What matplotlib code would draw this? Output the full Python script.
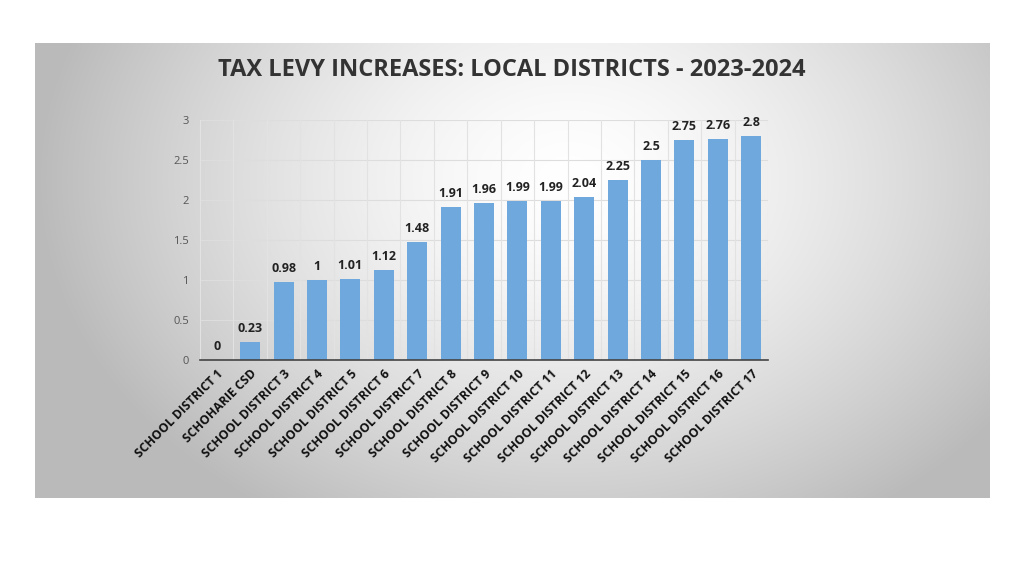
import numpy as np
import matplotlib
matplotlib.use("Agg")
import matplotlib.pyplot as plt

categories = ["SCHOOL DISTRICT 1", "SCHOHARIE CSD", "SCHOOL DISTRICT 3", "SCHOOL DISTRICT 4",
              "SCHOOL DISTRICT 5", "SCHOOL DISTRICT 6", "SCHOOL DISTRICT 7", "SCHOOL DISTRICT 8",
              "SCHOOL DISTRICT 9", "SCHOOL DISTRICT 10", "SCHOOL DISTRICT 11", "SCHOOL DISTRICT 12",
              "SCHOOL DISTRICT 13", "SCHOOL DISTRICT 14", "SCHOOL DISTRICT 15", "SCHOOL DISTRICT 16",
              "SCHOOL DISTRICT 17"]
values = [0, 0.23, 0.98, 1, 1.01, 1.12, 1.48, 1.91, 1.96, 1.99, 1.99, 2.04, 2.25, 2.5, 2.75, 2.76, 2.8]
value_labels = ["0", "0.23", "0.98", "1", "1.01", "1.12", "1.48", "1.91", "1.96", "1.99", "1.99",
                "2.04", "2.25", "2.5", "2.75", "2.76", "2.8"]
yticks = [0, 0.5, 1, 1.5, 2, 2.5, 3]
ytick_labels = ["0", "0.5", "1", "1.5", "2", "2.5", "3"]
title = "TAX LEVY INCREASES: LOCAL DISTRICTS - 2023-2024"

plt.rcParams['font.family'] = ["Open Sans", 'DejaVu Sans']

W, H = 1024, 576
fig = plt.figure(figsize=(W / 100, H / 100), dpi=100)
fig.patch.set_facecolor("white")

# background panel with radial gradient
px0, px1, py0, py1 = 35, 990, 43, 498
bg = fig.add_axes([px0 / W, 1 - py1 / H, (px1 - px0) / W, (py1 - py0) / H], zorder=0)
nx, ny = 400, 200
xx, yy = np.meshgrid(np.linspace(0, 1, nx), np.linspace(0, 1, ny))
cx, cy = 0.56, 0.3
r = np.sqrt(((xx - cx) / 0.6) ** 2 + ((yy - cy) / 0.95) ** 2)
v = np.clip(1.0 - 0.3 * r ** 1.5, 0.73, 1.0)
img = np.dstack([v, v, v])
bg.imshow(img, aspect="auto", extent=[0, 1, 1, 0], interpolation="bilinear")
bg.set_xlim(0, 1); bg.set_ylim(1, 0)
bg.axis("off")

# main axes
ax = fig.add_axes([200 / W, 1 - 360 / H, 568 / W, 240 / H], zorder=1)
ax.patch.set_alpha(0)
x = np.arange(len(categories))
ax.bar(x, values, width=0.6, color="#6FA8DC", zorder=3)
ax.set_xlim(-0.5, len(categories) - 0.5)
ax.set_ylim(0, 3)
ax.set_yticks(yticks)
ax.set_yticklabels(ytick_labels, fontsize=8, color="#555555")
ax.set_xticks(x)
ax.set_xticklabels(categories, rotation=45, ha="right", rotation_mode="anchor",
                   fontsize=8.8, fontweight="bold", color="#111111")
ax.tick_params(axis="y", length=0, pad=8)
ax.tick_params(axis="x", length=0, pad=5)
for yv in yticks[1:]:
    ax.axhline(yv, color="#dddddd", lw=0.8, zorder=1)
for xb in np.arange(-0.5, len(categories), 1.0):
    ax.axvline(xb, color="#e2e2e2", lw=0.8, zorder=1)
for s in ["top", "right", "left"]:
    ax.spines[s].set_visible(False)
ax.spines["bottom"].set_color("#444444")
ax.spines["bottom"].set_linewidth(1.2)
ax.spines["bottom"].set_zorder(4)

for xi, val, lab in zip(x, values, value_labels):
    ax.annotate(lab, (xi, val), xytext=(0, 5), textcoords="offset points",
                ha="center", va="bottom", fontsize=9, fontweight="bold", color="#222222",
                zorder=5)

fig.text(512 / W, 1 - 70 / H, title, ha="center", va="center", fontsize=17,
         fontweight="bold", color="#333333", zorder=5)

fig.savefig("out.png", dpi=100)
